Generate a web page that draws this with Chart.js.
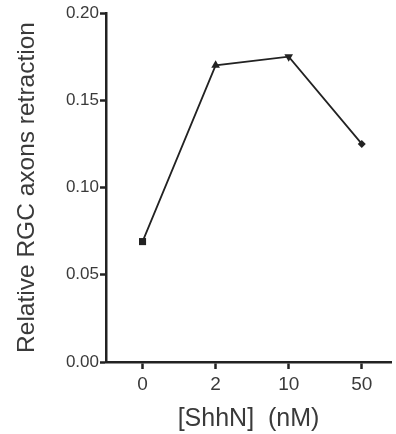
<!DOCTYPE html>
<html>
<head>
<meta charset="UTF-8">
<script src="https://cdn.jsdelivr.net/npm/chart.js"></script>
<style>
  html, body { margin: 0; padding: 0; background: #fff; }
  #wrap { width: 396px; height: 434px; }
</style>
</head>
<body>
<div id="wrap"><canvas id="c"></canvas></div>
<script>
  // concentrations of ShhN (category labels) and measured retraction
  const doses = ['0', '2', '10', '50'];
  const retraction = [0.069, 0.170, 0.175, 0.125];
  const markerStyles = ['rect', 'triangle', 'triangle', 'rectRot'];
  const markerRotation = [0, 0, 180, 0];
  const markerSizes = [5, 5, 5, 4];
  const yTicks = [0.00, 0.05, 0.10, 0.15, 0.20];

  const ink = '#222';
  const textCol = '#3a3a3a';
  const font = 'Liberation Sans, Arial, sans-serif';

  new Chart(document.getElementById('c'), {
    type: 'line',
    data: {
      datasets: [{
        data: retraction.map((v, i) => ({ x: i, y: v })),
        borderColor: ink,
        borderWidth: 1.8,
        backgroundColor: ink,
        pointStyle: markerStyles,
        rotation: markerRotation,
        pointRadius: markerSizes,
        pointBorderWidth: 0,
        tension: 0,
        fill: false
      }]
    },
    options: {
      responsive: true,
      maintainAspectRatio: false,
      animation: false,
      layout: { padding: { top: 13, right: 2, left: 0, bottom: 0 } },
      plugins: { legend: { display: false }, tooltip: { enabled: false } },
      scales: {
        x: {
          type: 'linear',
          min: -0.5,
          max: 3.4,
          afterBuildTicks: s => { s.ticks = doses.map((d, i) => ({ value: i })); },
          afterFit: s => { s.height = 72; },
          ticks: {
            callback: (v) => doses[v],
            color: textCol,
            font: { family: font, size: 19 },
            padding: 4
          },
          grid: { drawOnChartArea: false, drawTicks: true, tickLength: 7, tickWidth: 2.5, tickColor: ink },
          border: { display: true, color: ink, width: 2.5 },
          title: {
            display: true,
            text: '[ShhN]  (nM)',
            color: textCol,
            font: { family: font, size: 25 },
            padding: { top: 4, bottom: 0 }
          }
        },
        y: {
          min: 0,
          max: 0.2,
          afterBuildTicks: s => { s.ticks = yTicks.map(v => ({ value: v })); },
          afterFit: s => { s.width = 106; },
          ticks: {
            callback: v => v.toFixed(2),
            color: textCol,
            font: { family: font, size: 17 },
            padding: 1
          },
          grid: { drawOnChartArea: false, drawTicks: true, tickLength: 6, tickWidth: 2.5, tickColor: ink },
          border: { display: true, color: ink, width: 2.5 },
          title: {
            display: true,
            text: 'Relative RGC axons retraction',
            color: textCol,
            font: { family: font, size: 24.5 },
            padding: { top: 13, bottom: 0 }
          }
        }
      }
    }
  });
</script>
</body>
</html>
